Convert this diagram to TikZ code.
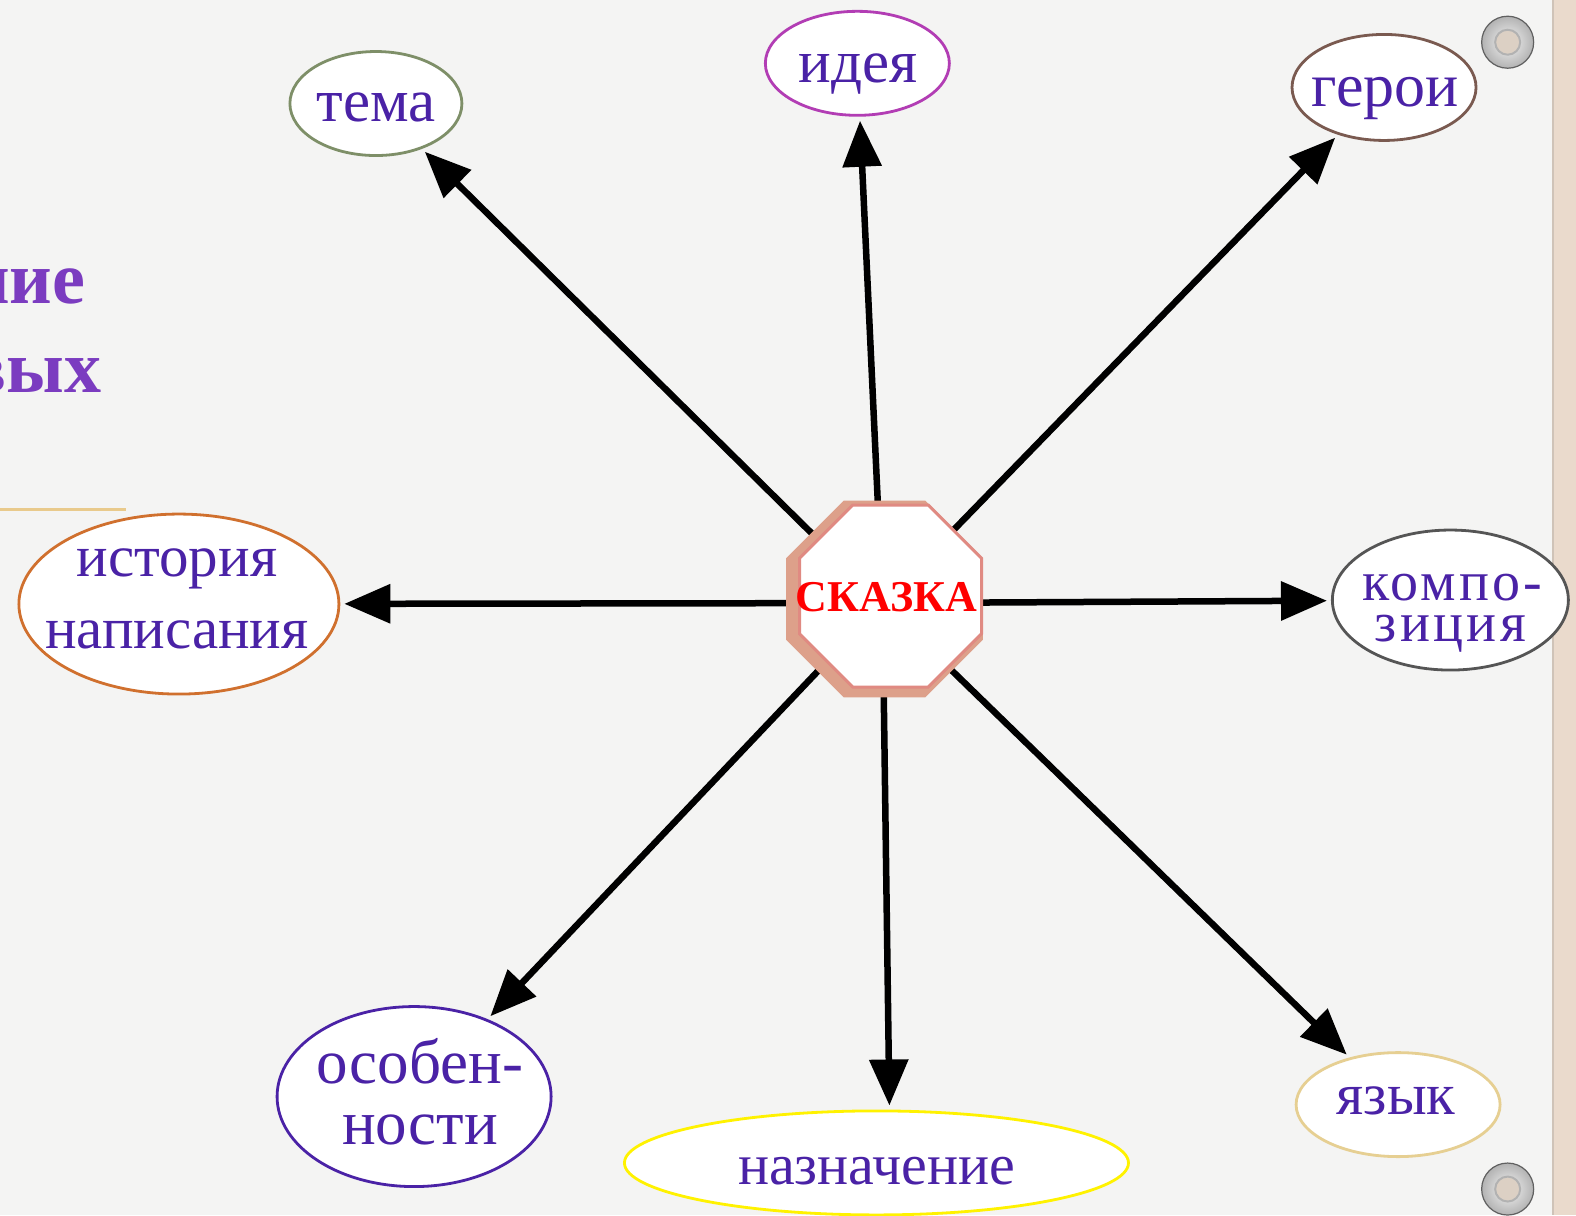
\documentclass[tikz,border=0pt]{standalone}
\usepackage{fontspec}
\setmainfont{Liberation Serif}
\usetikzlibrary{shapes.geometric,arrows.meta}
\definecolor{paper}{HTML}{F4F4F3}
\definecolor{strip}{HTML}{EADACC}
\definecolor{stripedge}{HTML}{CFC3B8}
\definecolor{ink}{HTML}{4A22A6}
\definecolor{titleink}{HTML}{7B3CC0}
\definecolor{goldline}{HTML}{E9CA8C}
\definecolor{cTema}{HTML}{7E8F68}
\definecolor{cIdea}{HTML}{B23DB4}
\definecolor{cGeroi}{HTML}{7A5A50}
\definecolor{cIstor}{HTML}{D0702E}
\definecolor{cKomp}{HTML}{555555}
\definecolor{cOsob}{HTML}{4A22A6}
\definecolor{cNazn}{HTML}{FFF200}
\definecolor{cYazyk}{HTML}{E6CF92}
\definecolor{octshadow}{HTML}{DDA08A}
\definecolor{octedge}{HTML}{E08A82}
\definecolor{holefill}{HTML}{DCD0C4}
\pgfdeclarelayer{paperlayer}
\pgfdeclarelayer{linklayer}
\pgfsetlayers{paperlayer,linklayer,main}
\tikzset{
  oval/.style={ellipse, draw=#1, line width=2.8pt, fill=white, inner sep=0pt},
  lbl/.style={text=ink, align=center, inner sep=0pt},
  word/.style={text=ink, inner sep=0pt, anchor=base, font=\fontsize{#1}{#1}\selectfont},
  spacedword/.style={text=ink, inner sep=0pt, anchor=base,
    font=\fontsize{#1}{#1}\selectfont\addfontfeature{LetterSpace=6}},
  arr/.style={-{Triangle[length=46pt,width=38pt]}, line width=6.5pt, black, shorten >=4pt},
  octo/.style={regular polygon, regular polygon sides=8, inner sep=0pt},
  grommet/.style={circle, minimum size=52pt, inner sep=0pt, draw=gray!75!black, line width=1.2pt,
    inner color=gray!8, outer color=gray!60},
  hole/.style={circle, minimum size=25pt, inner sep=0pt, fill=holefill, draw=gray!60, line width=2pt},
}
\begin{document}
\begin{tikzpicture}[x=1.005pt,y=-1.005pt]
\useasboundingbox (0,0) rectangle (1568,1209);
\begin{pgfonlayer}{paperlayer}
  \fill[paper] (0,0) rectangle (1568,1209);
  \fill[strip] (1545,0) rectangle (1568,1209);
  \draw[stripedge, line width=1.5pt] (1545,0) -- (1545,1209);
\end{pgfonlayer}

% grommets on the right edge
\node[grommet] (g1) at (1500,42) {};
\node[hole] (h1) at (g1) {};
\node[grommet] (g2) at (1500,1183) {};
\node[hole] (h2) at (g2) {};

% heading fragments and rule on the left
\node[anchor=base east, text=titleink, font=\bfseries\fontsize{74}{80}\selectfont, inner sep=0pt] (head1) at (85,302) {ние};
\node[anchor=base east, text=titleink, font=\bfseries\fontsize{74}{80}\selectfont, inner sep=0pt] (head2) at (101,391) {вых};
\draw[goldline, line width=3pt] (0,507) -- (125,507);

% ellipses and their words
\node[oval=cTema, minimum width=172pt, minimum height=104pt] (tema) at (374,103) {};
\node[word=61] (tema-t) at (374,121) {тема};

\node[oval=cIdea, minimum width=184pt, minimum height=104pt] (idea) at (853,63) {};
\node[word=61] (idea-t) at (854,82) {идея};

\node[oval=cGeroi, minimum width=184pt, minimum height=106pt] (geroi) at (1377,87) {};
\node[word=62] (geroi-t) at (1378,106) {герои};

\node[oval=cIstor, minimum width=320pt, minimum height=180pt] (istor) at (178,601) {};
\node[lbl, font=\fontsize{59}{72}\selectfont] (istor-t) at (176,596) {история\\написания};

\node[oval=cKomp, minimum width=236pt, minimum height=140pt] (komp) at (1443,597) {};
\node[spacedword=56] (komp-t1) at (1445,597) {компо-};
\node[spacedword=56] (komp-t2) at (1443,638) {зиция};

\node[oval=cOsob, minimum width=274pt, minimum height=180pt] (osob) at (412,1091) {};
\node[lbl, font=\fontsize{63}{61}\selectfont] (osob-t) at (418,1086) {особен-\\ности};

\node[oval=cNazn, minimum width=504pt, minimum height=104pt] (nazn) at (872,1157) {};
\node[word=58] (nazn-t) at (872,1178) {назначение};

\node[oval=cYazyk, minimum width=204pt, minimum height=104pt] (yazyk) at (1391,1099) {};
\node[word=59] (yazyk-t) at (1389,1109) {язык};

% central octagon with bevel
\node[octo, minimum size=213pt, fill=octshadow] (skshadow) at (880,596) {};
\node[octo, minimum size=197pt, fill=white, draw=octedge, line width=3pt] (sk) at (886,593) {};
\node[text=red, font=\bfseries\fontsize{44}{44}\selectfont, inner sep=0pt, anchor=base] (sk-t) at (882,608) {СКАЗКА};
\coordinate (hub) at (878,600);

% connectors from the centre
\begin{pgfonlayer}{linklayer}
  \draw[arr] (hub) -- (tema);
  \draw[arr] (hub) -- (idea);
  \draw[arr] (hub) -- (geroi);
  \draw[arr] (hub) -- (istor);
  \draw[arr] (hub) -- (komp);
  \draw[arr] (hub) -- (osob);
  \draw[arr] (hub) -- ([xshift=13pt]nazn.north);
  \draw[arr] (hub) -- (yazyk);
\end{pgfonlayer}
\end{tikzpicture}
\end{document}
